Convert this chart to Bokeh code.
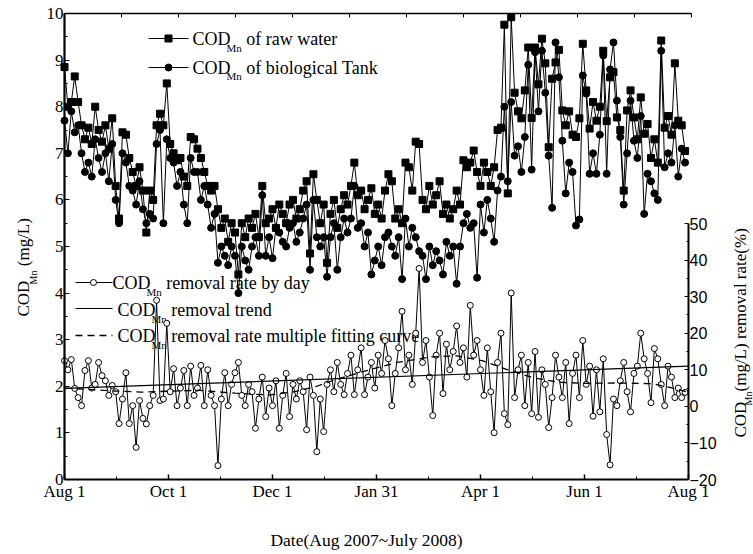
import math
from bokeh.plotting import figure
from bokeh.models import Range1d, LinearAxis, FixedTicker, Label
from bokeh.embed import file_html
from bokeh.resources import INLINE

# ---------------- data ----------------
# day offset from Aug 1 2007 (one reading every 2 days)
days = list(range(0, 366, 2))

raw_water = [
    8.85, 8.0, 8.1, 8.65, 8.1,   7.6, 7.3, 7.55, 7.2, 8.0,
    7.5, 7.25, 7.6, 7.1, 7.75,   6.3, 5.6, 7.45, 7.4, 6.9,
    6.6, 6.3, 6.7, 6.2, 5.3,     6.2, 6.0, 7.6, 7.85, 7.6,
    8.5, 7.2, 7.0, 6.85, 6.9,    6.5, 6.3, 7.35, 7.3, 7.1,
    6.9, 6.6, 6.3, 6.2, 6.3,     5.8, 5.4, 5.6, 5.1, 5.5,
    5.3, 4.4, 5.5, 5.2, 5.6,     5.4, 5.7, 5.2, 6.3, 5.5,
    5.6, 5.8, 5.4, 5.9, 5.7,     5.5, 5.9, 6.0, 5.6, 5.8,
    6.2, 6.4, 4.85, 6.55, 6.0,   5.5, 5.9, 4.65, 5.7, 6.0,
    5.4, 5.8, 6.1, 5.9, 6.3,     6.8, 6.1, 6.2, 5.8, 6.0,
    6.25, 5.7, 5.9, 5.6, 6.2,    6.55, 6.4, 5.6, 5.8, 5.5,
    6.8, 6.7, 6.2, 7.25, 7.2,    6.0, 5.8, 6.3, 5.9, 6.1,
    6.4, 5.7, 5.9, 5.6, 5.8,     6.2, 5.9, 6.85, 6.7, 6.8,
    7.06, 6.6, 6.3, 6.8, 6.6,    6.3, 6.7, 7.5, 7.55, 9.76,
    6.14, 9.92, 8.3, 7.9, 7.75,  8.35, 9.27, 7.76, 9.27, 8.48,
    9.46, 8.93, 7.13, 8.6, 8.95, 9.22, 7.92, 7.6, 7.9, 7.4,
    7.35, 7.75, 9.35, 8.35, 7.53, 8.1, 7.7, 8.0, 9.2, 7.69,
    8.63, 8.74, 7.77, 7.5, 6.2,  7.92, 8.35, 7.77, 7.3, 8.2,
    7.42, 7.63, 6.9, 7.3, 6.8,   9.42, 7.55, 7.8, 7.4, 8.93,
    7.7, 7.6, 7.05,
]

bio_tank = [
    7.7, 7.0, 7.9, 7.45, 7.6,    7.0, 6.6, 6.8, 6.5, 7.3,
    6.9, 6.6, 7.0, 6.4, 7.2,     6.0, 5.5, 7.0, 6.8, 6.3,
    6.2, 5.9, 6.4, 5.8, 5.5,     5.7, 5.6, 7.2, 7.5, 5.5,
    7.3, 6.9, 6.8, 6.3, 6.6,     5.9, 5.5, 6.9, 6.6, 6.6,
    6.0, 6.3, 5.9, 5.4, 5.7,     4.65, 5.0, 4.8, 4.6, 5.0,
    4.8, 4.0, 5.0, 4.7, 4.5,     5.0, 5.2, 4.8, 6.1, 4.8,
    5.2, 4.75, 5.4, 5.3, 5.1,    5.0, 5.4, 5.5, 5.1, 5.3,
    5.6, 5.9, 4.5, 6.0, 5.2,     5.0, 5.2, 4.35, 5.2, 5.5,
    4.5, 5.2, 5.6, 5.3, 5.6,     6.3, 5.4, 5.5, 5.0, 5.3,
    4.4, 4.7, 5.0, 4.6, 5.2,     5.3, 5.0, 4.8, 5.2, 4.3,
    5.6, 5.0, 5.4, 5.2, 4.9,     4.8, 4.3, 5.0, 4.6, 4.9,
    4.7, 4.4, 5.1, 4.8, 5.0,     4.2, 5.0, 5.5, 5.7, 5.4,
    5.5, 4.33, 5.9, 5.3, 6.0,    5.6, 5.1, 6.2, 6.5, 8.0,
    6.4, 8.1, 6.95, 7.15, 6.6,   7.35, 8.9, 6.65, 9.17, 7.9,
    9.2, 8.3, 6.95, 5.83, 9.38,  8.63, 7.27, 6.14, 6.8, 6.6,
    5.45, 5.58, 8.67, 8.28, 6.56, 7.0, 6.56, 7.4, 9.1, 6.56,
    8.8, 9.38, 8.13, 7.35, 5.9,  7.0, 8.13, 7.27, 6.9, 7.8,
    5.7, 6.56, 6.4, 6.14, 6.0,   9.2, 6.7, 7.0, 6.8, 7.6,
    6.5, 7.1, 6.8,
]

removal_rate = [
    12.5, 10, 12.8, 4.9, 2.4,    0.2, 9.8, 12.5, 5, 6,
    12, 8.4, 7, 3, 5.7,          4, -4.7, 2, 9.2, -4.7,
    0.2, -11.2, 1.6, -3.3, -4.8, 0.2, 3, 29, 1.6, 2,
    22.7, 4, 10.3, 0.2, 5,       9.8, 0.2, 11, 3, 5,
    11.2, 0.2, 10, 3, 0.2,       -16.2, 2, 9.2, 0.2, 6,
    9.2, 12, 3, 0.2, 6,          4, -6, 2, 8, -2.8,
    5, 0.2, 7, -6, 3,            9, -2.8, 6, 2, 7,
    4, -6.4, 8, 3, -12.4,        2, -6.9, 6, 10, 4,
    12, 6, 3.2, 9, 14,           3.2, 10, 16, 3.2, 8,
    12, 5, 14, 9, 18,            13, 0.2, 9, 16, 26,
    10, 14, 6, 20, 37.7,         12, 18, 8, -2.5, 14,
    20, 3.5, 17, 10, 15,         22, 12, 16, 8, 27.6,
    14, 18, 10, 3, 16,           4, -7.2, 12, 20, -2,
    -5, 31, 2.4, 10, 14,         0.2, 12, -2, 15, -3,
    10, 6, -5.8, 2.4, 14,        8, 2.4, 12, -4.7, 9,
    14, 2.4, 18, 6, 11,          -2.7, 10, -1.5, 13, -7.7,
    -16, 2, 0.2, 7, 12,          4, -1.5, 9, 11, 20,
    13, 9, 1, 15.8, 13,          6, 0.2, 11, 8, 2.4,
    5, 2.4, 3.8,
]

# straight removal trend
trend_days = [0, 366]
trend_rate = [4.9, 11.0]

# multiple fitting curve
fit_days = [0, 30, 45, 79, 100, 120, 135, 148, 157, 175, 195, 215, 230, 245,
            260, 275, 290, 305, 325, 345, 357, 366]
fit_rate = [5.0, 4.2, 3.9, 4.4, 3.6, 3.1, 4.0, 5.5, 7.0, 9.5, 12.0, 13.5, 13.8, 12.5,
            10.0, 7.8, 6.6, 6.3, 6.4, 6.2, 5.0, 3.8]

tick_days = [0, 61, 122, 183, 244, 305, 366]
tick_labels = ["Aug 1", "Oct 1", "Dec 1", "Jan 31", "Apr 1", "Jun 1", "Aug 1"]
minor_days = [30.5, 91.5, 152.5, 213.5, 274.5, 335.5]

# ---------------- geometry (page pixels) ----------------
W, H = 753, 554
FL, FT, FR, FB = 64, 13, 688, 479     # plot box edges
R50 = 223                             # pixel row of 50 % on the right axis
SERIF = "Liberation Serif"
SANS = "Liberation Sans"

ppx = (FR - FL) / 366.0               # px per day
ppy = (FB - FT) / 10.0                # px per mg/L
ppr = (FB - R50) / 70.0               # px per %

x_rng = Range1d(-FL / ppx, 366 + (W - FR) / ppx)
y_rng = Range1d(-(H - FB) / ppy, 10 + FT / ppy)

p = figure(width=W, height=H, output_backend="svg", toolbar_location=None,
           x_range=x_rng, y_range=y_rng,
           min_border=0, min_border_left=0, min_border_right=0,
           min_border_top=0, min_border_bottom=0)
p.outline_line_color = None
p.xgrid.grid_line_color = None
p.ygrid.grid_line_color = None
p.background_fill_color = "white"
p.border_fill_color = "white"

p.extra_y_ranges = {"rate": Range1d(-20 - (H - FB) / ppr, 50 + R50 / ppr)}
p.extra_x_ranges = {"top": Range1d(-FL / 57.0, (W - FL) / 57.0)}

# bottom axis
xa = p.xaxis[0]
xa.fixed_location = 0
xa.bounds = (0, 366)
xa.ticker = FixedTicker(ticks=tick_days, minor_ticks=minor_days)
xa.major_label_overrides = {d: t for d, t in zip(tick_days, tick_labels)}
xa.axis_line_width = 2.2
xa.major_tick_in, xa.major_tick_out = 5, 0
xa.minor_tick_in, xa.minor_tick_out = 3, 0
xa.major_tick_line_width = 1.5
xa.major_label_text_font = SERIF
xa.major_label_text_font_size = "17px"
xa.major_label_text_color = "black"
xa.major_label_standoff = 2

# left axis
ya = p.yaxis[0]
ya.fixed_location = 0
ya.bounds = (0, 10)
ya.ticker = FixedTicker(ticks=list(range(0, 11)), minor_ticks=[i + 0.5 for i in range(10)])
ya.axis_line_width = 2.2
ya.major_tick_in, ya.major_tick_out = 5, 0
ya.minor_tick_in, ya.minor_tick_out = 3, 0
ya.major_label_text_font = SERIF
ya.major_label_text_font_size = "17px"
ya.major_label_text_color = "black"
ya.major_label_standoff = 1

# right axis (removal rate)
ra = LinearAxis(y_range_name="rate", bounds=(-20, 50), fixed_location=366,
                ticker=FixedTicker(ticks=list(range(-20, 51, 10)),
                                   minor_ticks=list(range(-15, 50, 10))))
ra.axis_line_width = 2
ra.major_tick_in, ra.major_tick_out = 4, 0
ra.minor_tick_in, ra.minor_tick_out = 2, 0
ra.major_label_text_font = SANS
ra.major_label_text_font_size = "16px"
ra.major_label_text_color = "black"
ra.major_label_standoff = 1
p.add_layout(ra, "right")

# top border with inward ticks
ta = LinearAxis(x_range_name="top", bounds=(0, 11), fixed_location=10,
                ticker=FixedTicker(ticks=[], minor_ticks=list(range(0, 12))))
ta.axis_line_width = 1.6
ta.minor_tick_in, ta.minor_tick_out = 4, 0
p.add_layout(ta, "above")

# ---------------- helpers for text runs ----------------
TW = {' ': 250, '(': 333, ')': 333, '%': 833, '/': 278, '~': 541,
      'A': 722, 'C': 667, 'D': 722, 'J': 389, 'L': 611, 'M': 889, 'T': 611,
      'a': 444, 'b': 500, 'c': 444, 'd': 500, 'e': 444, 'f': 333, 'g': 500,
      'h': 500, 'i': 278, 'k': 500, 'l': 278, 'm': 778, 'n': 500, 'o': 500,
      'p': 500, 'r': 333, 's': 389, 't': 278, 'u': 500, 'v': 500, 'w': 722,
      'y': 500}


def tw(s, size):
    return sum(TW.get(c, 500) for c in s) / 1000.0 * size


def split_lead(text, size):
    body = text.lstrip(" ")
    return body, tw(text[:len(text) - len(body)], size)


def runs_h(X, Yc, runs, level="annotation"):
    """Horizontal text pieces; Yc = vertical centre of the main text."""
    x = X
    for text, size, off in runs:
        body, lead = split_lead(text, size)
        x += lead
        p.add_layout(Label(x=x, y=H - (Yc + off), x_units="screen", y_units="screen",
                           text=body, text_font=SERIF, text_font_size=f"{size}px",
                           text_color="black", text_align="left",
                           text_baseline="middle", level=level))
        x += tw(body, size)


def runs_v(Xc, Ys, runs):
    """Text rotated to read upwards; Xc = horizontal centre, Ys = start (bottom)."""
    y = Ys
    for text, size, off in runs:
        body, lead = split_lead(text, size)
        y -= lead
        p.add_layout(Label(x=Xc + off, y=H - y, x_units="screen", y_units="screen",
                           angle=math.pi / 2, text=body, text_font=SERIF,
                           text_font_size=f"{size}px", text_color="black",
                           text_align="left", text_baseline="middle"))
        y -= tw(body, size)


def dx(X):
    return (X - FL) / ppx


def dy(Y):
    return (FB - Y) / ppy


def dr(Y):
    return -20 + (FB - Y) / ppr


# ---------------- legend 2 texts (under the data) ----------------
runs_h(112, 282, [("COD", 18, 0), ("Mn", 11, 9), (" removal rate by day", 18, 0)], level="underlay")
runs_h(117, 309, [("COD", 18, 0), ("Mn", 11, 9), (" removal trend", 18, 0)], level="underlay")
runs_h(117, 335, [("COD", 18, 0), ("Mn", 11, 9), (" removal rate multiple fitting curve", 18, 0)], level="underlay")

# ---------------- data ----------------
p.line(days, raw_water, line_color="black", line_width=1)
p.scatter(days, raw_water, marker="square", size=7, fill_color="black", line_color="black")
p.line(days, bio_tank, line_color="black", line_width=1)
p.scatter(days, bio_tank, marker="circle", size=7, fill_color="black", line_color="black")

p.line(days, removal_rate, y_range_name="rate", line_color="black", line_width=1)
p.scatter(days, removal_rate, y_range_name="rate", marker="circle", size=6,
          fill_color="white", line_color="black", line_width=1)
p.line(trend_days, trend_rate, y_range_name="rate", line_color="black", line_width=1.2)
p.line(fit_days, fit_rate, y_range_name="rate", line_color="black", line_width=1.3,
       line_dash="7 5")

# ---------------- legend samples ----------------
for Y, mk in [(38, "square"), (67, "circle")]:
    p.line([dx(148), dx(188)], [dy(Y), dy(Y)], line_color="black", line_width=1)
    p.scatter([dx(168)], [dy(Y)], marker=mk, size=7, fill_color="black", line_color="black")
runs_h(192, 38.5, [("COD", 18, 0), ("Mn", 11, 8.5), (" of raw water", 18, 0)])
runs_h(192, 67, [("COD", 18, 0), ("Mn", 11, 8.5), (" of biological Tank", 18, 0)])

p.line([dx(75), dx(112)], [dr(282), dr(282)], y_range_name="rate", line_color="black", line_width=1)
p.scatter([dx(93)], [dr(282)], y_range_name="rate", marker="circle", size=6,
          fill_color="white", line_color="black")
p.line([dx(75), dx(112)], [dr(308), dr(308)], y_range_name="rate", line_color="black", line_width=1.2)
p.line([dx(75), dx(112)], [dr(335), dr(335)], y_range_name="rate", line_color="black",
       line_width=1.3, line_dash="7 5")

# ---------------- axis titles ----------------
runs_v(23, 316, [("COD", 17, 0), ("Mn", 10, 10), (" (mg/L)", 17, 0)])
runs_v(740, 437, [("COD", 17, 0), ("Mn", 10, 8), ("(mg/L) removal rate(%)", 17, 0)])
xt = "Date(Aug 2007~July 2008)"
runs_h(366 - tw(xt, 17.5) / 2, 539.5, [(xt, 17.5, 0)])

open("out.html", "w").write(file_html(p, INLINE))
